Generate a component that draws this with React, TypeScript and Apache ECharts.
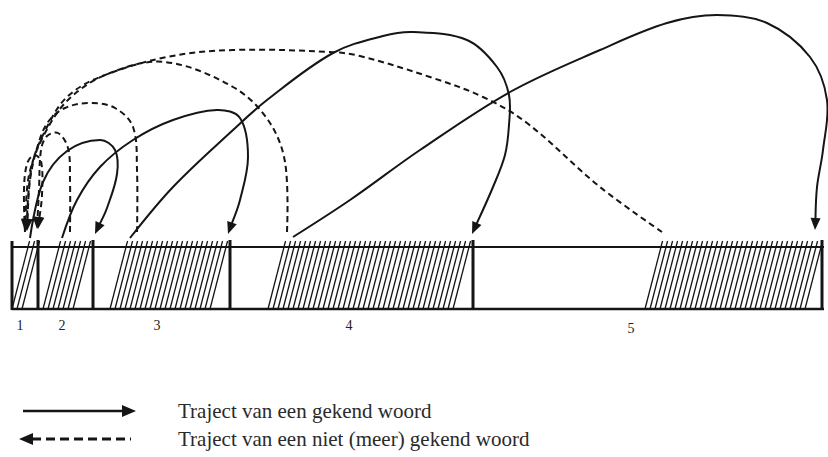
import React, { useEffect, useRef } from "react";
import * as echarts from "echarts";

// Text blocks along the reading strip (position units along the text)
const blockLabels = ["1", "2", "3", "4", "5"];
const blockStart = [12, 43, 110, 268, 645];
const blockEnd = [38, 93, 230, 473, 822];
const blockLabelAt = [20, 62, 157, 349, 631];

// Trajectories of known words (solid, forward)
const knownPaths: number[][][] = [
  [[30, 238], [43, 182], [67, 151], [100, 140], [115, 150], [117, 174], [107, 208], [95, 234]],
  [[62, 238], [77, 200], [100, 167], [133, 140], [173, 120], [217, 110], [240, 118], [248, 157], [240, 200], [228, 234]],
  [[130, 238], [173, 187], [233, 130], [267, 100], [333, 53], [383, 36], [413, 32], [467, 40], [497, 67], [509, 95], [509, 125], [505, 155], [493, 187], [472, 234]],
  [[293, 237], [350, 200], [420, 150], [510, 92], [600, 50], [667, 23], [717, 15], [767, 23], [810, 57], [827, 100], [823, 150], [817, 187], [815, 230]],
];

// Trajectories of words no longer known (dashed, backward)
const unknownPaths: number[][][] = [
  [[25, 232], [24, 190], [27, 164], [34, 155], [41, 161], [42, 195], [38, 229]],
  [[70, 232], [70, 180], [68, 148], [58, 133], [47, 136], [41, 150], [39, 190], [37, 229]],
  [[137, 232], [137, 170], [133, 127], [115, 108], [90, 103], [65, 108], [48, 122], [38, 145], [30, 180], [27, 231]],
  [[287, 232], [285, 162], [268, 120], [233, 87], [165, 62], [110, 73], [70, 98], [45, 133], [29, 175], [25, 231]],
  [[662, 232], [600, 187], [527, 123], [483, 97], [430, 77], [360, 56], [330, 52], [233, 50], [167, 57], [100, 77], [67, 97], [47, 127], [32, 165], [26, 231]],
];

const legendLabels = ["Traject van een gekend woord", "Traject van een niet (meer) gekend woord"];

const INK = "#151515";
const SERIF = "'Liberation Serif', 'DejaVu Serif', serif";

function curveRenderer(paths: number[][][], dashed: boolean) {
  return (params: any, api: any) => {
    const pts = paths[params.dataIndex].map((p) => api.coord(p));
    const n = pts.length;
    const [tx, ty] = pts[n - 1];
    const [px, py] = pts[n - 2];
    let dx = tx - px;
    let dy = ty - py;
    const len = Math.hypot(dx, dy) || 1;
    dx /= len;
    dy /= len;
    const L = 12;
    const W = 5;
    const bx = tx - dx * L;
    const by = ty - dy * L;
    const linePts = pts.slice(0, n - 1).concat([[bx + dx * 2, by + dy * 2]]);
    return {
      type: "group",
      children: [
        {
          type: "polyline",
          shape: { points: linePts, smooth: 0.35 },
          style: {
            stroke: INK,
            lineWidth: 2,
            fill: "none",
            lineDash: dashed ? [6, 4] : null,
          },
        },
        {
          type: "polygon",
          shape: {
            points: [
              [tx, ty],
              [bx - dy * W, by + dx * W],
              [bx + dy * W, by - dx * W],
            ],
          },
          style: { fill: INK },
        },
      ],
    };
  };
}

export default function App() {
  const ref = useRef<HTMLDivElement>(null);

  useEffect(() => {
    if (!ref.current) return;
    const chart = echarts.init(ref.current, null, { renderer: "svg" });
    const stripTop = 247;
    const stripBottom = 309;
    const stripLeft = 12;
    const stripRight = 824;

    const option: any = {
      animation: false,
      backgroundColor: "#ffffff",
      grid: { left: 0, right: 0, top: 0, bottom: 0, containLabel: false },
      xAxis: { type: "value", min: 0, max: 828, show: false },
      yAxis: { type: "value", min: 0, max: 457, inverse: true, show: false },
      series: [
        {
          type: "custom",
          name: "strip",
          silent: true,
          clip: false,
          data: [[stripLeft, stripTop]],
          renderItem: (params: any, api: any) => {
            const [l, t] = api.coord([stripLeft, stripTop]);
            const [r, b] = api.coord([stripRight, stripBottom]);
            return {
              type: "group",
              children: [
                { type: "line", shape: { x1: l, y1: t, x2: r, y2: t }, style: { stroke: INK, lineWidth: 2 } },
                { type: "line", shape: { x1: l, y1: b, x2: r, y2: b }, style: { stroke: INK, lineWidth: 2.5 } },
                { type: "line", shape: { x1: l, y1: t - 6, x2: l, y2: b + 1 }, style: { stroke: INK, lineWidth: 3 } },
              ],
            };
          },
        },
        {
          type: "custom",
          name: "blocks",
          silent: true,
          clip: false,
          data: blockStart.map((s, i) => [s, blockEnd[i], blockLabelAt[i]]),
          renderItem: (params: any, api: any) => {
            const s = api.value(0);
            const e = api.value(1);
            const la = api.value(2);
            const [xs, yb] = api.coord([s, stripBottom]);
            const [xe, yt] = api.coord([e, stripTop]);
            const slant = 16;
            const step = 5;
            const children: any[] = [];
            const h = yb - yt;
            const ext = 6;
            for (let x = xs; x <= xe - slant + 0.5; x += step) {
              const topX = Math.min(x + slant, xe);
              const k = (topX - x) / h;
              children.push({
                type: "line",
                shape: { x1: x, y1: yb, x2: topX + k * ext, y2: yt - ext },
                style: { stroke: INK, lineWidth: 1.3 },
              });
            }
            children.push({
              type: "line",
              shape: { x1: xe, y1: yt - 7, x2: xe, y2: yb + 1 },
              style: { stroke: INK, lineWidth: 3 },
            });
            const [lx] = api.coord([la, stripBottom]);
            const idx = params.dataIndex;
            children.push({
              type: "text",
              x: lx,
              y: yb + 16 + (idx === 4 ? 3 : 0),
              style: {
                text: blockLabels[idx],
                fill: "#222",
                font: `14px ${SERIF}`,
                align: "center",
                verticalAlign: "middle",
              },
            });
            return { type: "group", children };
          },
        },
        {
          type: "custom",
          name: "known",
          silent: true,
          clip: false,
          data: knownPaths.map((p) => p[0]),
          renderItem: curveRenderer(knownPaths, false),
        },
        {
          type: "custom",
          name: "unknown",
          silent: true,
          clip: false,
          data: unknownPaths.map((p) => p[0]),
          renderItem: curveRenderer(unknownPaths, true),
        },
      ],
      graphic: [
        { type: "line", shape: { x1: 23, y1: 411, x2: 124, y2: 411 }, style: { stroke: INK, lineWidth: 2.5 } },
        { type: "polygon", shape: { points: [[136, 411], [122, 405], [122, 417]] }, style: { fill: INK } },
        {
          type: "text",
          x: 178,
          y: 411,
          style: { text: legendLabels[0], fill: "#2a2a2a", font: `21px ${SERIF}`, verticalAlign: "middle" },
        },
        {
          type: "line",
          shape: { x1: 32, y1: 439, x2: 131, y2: 439 },
          style: { stroke: INK, lineWidth: 3, lineDash: [9, 5] },
        },
        { type: "polygon", shape: { points: [[19, 439], [33, 433], [33, 445]] }, style: { fill: INK } },
        {
          type: "text",
          x: 178,
          y: 439,
          style: { text: legendLabels[1], fill: "#2a2a2a", font: `21px ${SERIF}`, verticalAlign: "middle" },
        },
      ],
    };
    chart.setOption(option);
    return () => chart.dispose();
  }, []);

  return (
    <div
      ref={ref}
      style={{ position: "absolute", left: 0, top: 0, width: 828, height: 457 }}
    />
  );
}
